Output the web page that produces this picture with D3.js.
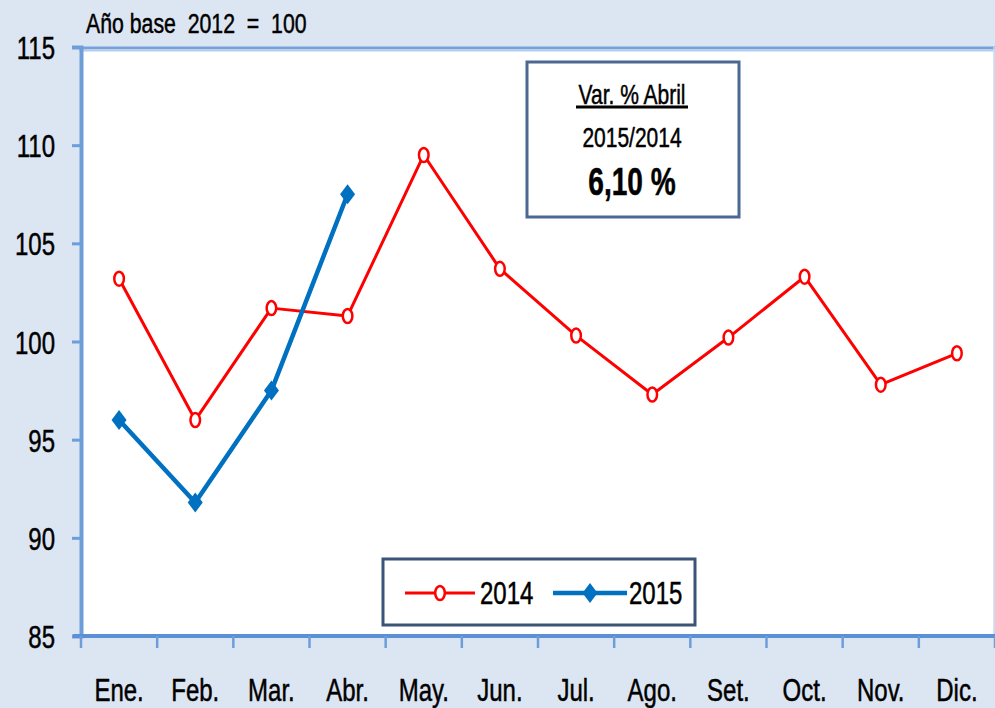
<!DOCTYPE html>
<html><head><meta charset="utf-8">
<script src="https://cdn.jsdelivr.net/npm/d3@7/dist/d3.min.js"></script>
<style>
html,body{margin:0;padding:0;background:#dce6f2;}
svg{display:block;font-family:"Liberation Sans",Arial,sans-serif;}
text{stroke:#000;stroke-width:0.5px;paint-order:stroke;}
</style></head><body>
<svg id="c" width="995" height="708"></svg>
<script>
const months = ["Ene.","Feb.","Mar.","Abr.","May.","Jun.","Jul.","Ago.","Set.","Oct.","Nov.","Dic."];
const values2014 = [103.2, 96.0, 101.7, 101.3, 109.5, 103.7, 100.3, 97.3, 100.2, 103.3, 97.8, 99.4];
const values2015 = [96.0, 91.8, 97.5, 107.5];
const yTicks = [85, 90, 95, 100, 105, 110, 115];
const seriesNames = ["2014", "2015"];
const titleText = "Año base  2012  =  100";
const noteLines = ["Var. % Abril", "2015/2014", "6,10 %"];

const svg = d3.select("#c");
const W = 995, H = 708;
const L = 81, R = 995, T = 47, B = 636;
const SX = 0.75;

svg.append("rect").attr("width", W).attr("height", H).attr("fill", "#dce6f2");

const x = d3.scaleBand().domain(months).range([L, R]).padding(0);
const y = d3.scaleLinear().domain([85, 115]).range([B, T]);

// plot area
svg.append("rect").attr("x", L).attr("y", T).attr("width", R - L - 1).attr("height", B - T)
  .attr("fill", "#ffffff");
svg.append("line").attr("x1", L - 2).attr("x2", R).attr("y1", T + 1).attr("y2", T + 1)
  .attr("stroke", "#74a2da").attr("stroke-width", 3);
svg.append("line").attr("x1", L - 2).attr("x2", R).attr("y1", T + 3.5).attr("y2", T + 3.5)
  .attr("stroke", "#b5cdeb").attr("stroke-width", 2);
svg.append("line").attr("x1", R - 1).attr("x2", R - 1).attr("y1", T).attr("y2", B)
  .attr("stroke", "#c9daf0").attr("stroke-width", 1.5);

// y axis
const yAxis = d3.axisLeft(y).tickValues(yTicks).tickSize(9).tickPadding(0).tickFormat(d3.format("d"));
const gy = svg.append("g").attr("transform", `translate(${L},0)`).call(yAxis);
gy.select(".domain").attr("stroke", "#6d9eda").attr("stroke-width", 4);
gy.selectAll(".tick line").attr("stroke", "#6d9eda").attr("stroke-width", 3);
gy.selectAll(".tick text")
  .attr("x", 0).attr("dy", "0.36em")
  .attr("transform", `translate(-26,0) scale(${SX},1)`)
  .attr("font-size", 32).attr("fill", "#000").attr("text-anchor", "end");

// x axis
const xAxis = d3.axisBottom(x).tickSize(0).tickPadding(0);
const gx = svg.append("g").attr("transform", `translate(0,${B})`).call(xAxis);
gx.select(".domain").attr("stroke", "#5b8fd6").attr("stroke-width", 4).attr("d", `M${L - 8},0H${R}`);
gx.selectAll(".tick text")
  .attr("y", 0).attr("dy", 0)
  .attr("transform", `translate(0,65) scale(${SX},1)`)
  .attr("font-size", 32).attr("fill", "#000").attr("text-anchor", "middle");
// boundary ticks
const bounds = months.map(m => x(m)).concat([R]);
gx.selectAll(".btick").data(bounds).join("line").attr("class", "btick")
  .attr("x1", d => d).attr("x2", d => d).attr("y1", 0).attr("y2", 12)
  .attr("stroke", "#6d9eda").attr("stroke-width", 2.5);

// title
svg.append("text").attr("transform", `translate(86,33) scale(${SX + 0.01},1)`)
  .attr("font-size", 28).attr("fill", "#000").attr("xml:space", "preserve")
  .style("white-space", "pre").text(titleText);

const cx = (d, i) => x(months[i]) + x.bandwidth() / 2;
const line = d3.line().x((d, i) => cx(d, i)).y(d => y(d));

// 2014 series
svg.append("path").datum(values2014).attr("d", line)
  .attr("fill", "none").attr("stroke", "#ff0000").attr("stroke-width", 3).attr("stroke-linejoin", "round");
// 2015 series
svg.append("path").datum(values2015).attr("d", line)
  .attr("fill", "none").attr("stroke", "#0070c0").attr("stroke-width", 4.5).attr("stroke-linejoin", "round");

svg.selectAll(".m14").data(values2014).join("ellipse").attr("class", "m14")
  .attr("cx", cx).attr("cy", d => y(d)).attr("rx", 4.8).attr("ry", 7)
  .attr("fill", "#fff").attr("stroke", "#ff0000").attr("stroke-width", 2.5);

const dia = (w, h) => `M0,${-h}L${w * 0.6},${-h * 0.4}L${w},0L${w * 0.6},${h * 0.4}L0,${h}L${-w * 0.6},${h * 0.4}L${-w},0L${-w * 0.6},${-h * 0.4}Z`;
svg.selectAll(".m15").data(values2015).join("path").attr("class", "m15")
  .attr("transform", (d, i) => `translate(${cx(d, i)},${y(d)})`)
  .attr("d", dia(7.5, 10)).attr("fill", "#0070c0");

// note box
const nb = svg.append("g");
nb.append("rect").attr("x", 527).attr("y", 62).attr("width", 212).attr("height", 155)
  .attr("fill", "#fff").attr("stroke", "#4a6891").attr("stroke-width", 3);
nb.append("text").attr("transform", `translate(632,104) scale(${SX},1)`)
  .attr("text-anchor", "middle").attr("font-size", 28).attr("fill", "#000").text(noteLines[0]);
nb.append("line").attr("x1", 576).attr("x2", 688).attr("y1", 107).attr("y2", 107)
  .attr("stroke", "#000").attr("stroke-width", 3);
nb.append("text").attr("transform", `translate(632,147) scale(${SX},1)`)
  .attr("text-anchor", "middle").attr("font-size", 28).attr("fill", "#000").text(noteLines[1]);
nb.append("text").attr("transform", `translate(632,195) scale(0.74,1)`)
  .attr("text-anchor", "middle").attr("font-size", 38).attr("font-weight", "bold").attr("fill", "#000").text(noteLines[2]);

// legend
const lg = svg.append("g");
lg.append("rect").attr("x", 383).attr("y", 559).attr("width", 312).attr("height", 66)
  .attr("fill", "#fff").attr("stroke", "#3a5478").attr("stroke-width", 3);
const legItems = [
  {name: seriesNames[0], x1: 405, x2: 475, color: "#ff0000", tx: 480, sw: 3, type: "circle"},
  {name: seriesNames[1], x1: 553, x2: 627, color: "#0070c0", tx: 629, sw: 4.5, type: "diamond"}
];
legItems.forEach(it => {
  lg.append("line").attr("x1", it.x1).attr("x2", it.x2).attr("y1", 593).attr("y2", 593)
    .attr("stroke", it.color).attr("stroke-width", it.sw);
  const mx = (it.x1 + it.x2) / 2;
  if (it.type === "circle") {
    lg.append("ellipse").attr("cx", mx).attr("cy", 593).attr("rx", 4.8).attr("ry", 7)
      .attr("fill", "#fff").attr("stroke", it.color).attr("stroke-width", 2.5);
  } else {
    lg.append("path").attr("transform", `translate(${mx},593)`).attr("d", dia(7.5, 10)).attr("fill", it.color);
  }
  lg.append("text").attr("transform", `translate(${it.tx},604) scale(${SX},1)`)
    .attr("font-size", 32).attr("fill", "#000").text(it.name);
});
</script>
</body></html>
